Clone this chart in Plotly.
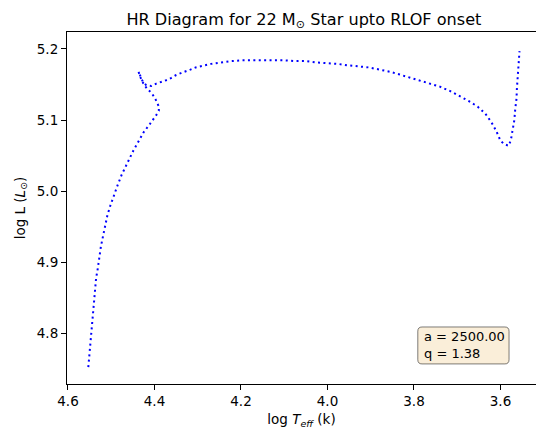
import plotly.graph_objects as go

# Evolutionary track of the 22 Msun donor, ZAMS up to the onset of RLOF
log_teff = [
    4.553, 4.551, 4.548, 4.547, 4.545, 4.542, 4.538, 4.535, 4.531, 4.528,
    4.524, 4.519, 4.514, 4.509, 4.502, 4.494, 4.485, 4.476, 4.466, 4.460,
    4.449, 4.437, 4.425, 4.410, 4.402, 4.396, 4.390, 4.390, 4.395, 4.400,
    4.408, 4.416, 4.423, 4.430, 4.434, 4.437, 4.432, 4.427, 4.419, 4.407,
    4.397, 4.385, 4.373, 4.362, 4.351, 4.339, 4.328, 4.317, 4.305, 4.293,
    4.281, 4.269, 4.258, 4.246, 4.222, 4.197, 4.172, 4.148, 4.123, 4.099,
    4.074, 4.050, 4.026, 4.001, 3.976, 3.953, 3.929, 3.904, 3.880, 3.856,
    3.833, 3.810, 3.787, 3.764, 3.740, 3.717, 3.695, 3.674, 3.653, 3.635,
    3.621, 3.610, 3.600, 3.591, 3.581, 3.576, 3.572, 3.568, 3.566, 3.563,
    3.562, 3.560, 3.559, 3.557, 3.556,
]
log_l = [
    4.753, 4.767, 4.782, 4.797, 4.812, 4.834, 4.856, 4.878, 4.892, 4.907,
    4.922, 4.937, 4.952, 4.966, 4.980, 4.995, 5.009, 5.023, 5.036, 5.044,
    5.057, 5.070, 5.083, 5.095, 5.101, 5.107, 5.113, 5.119, 5.126, 5.132,
    5.139, 5.143, 5.149, 5.156, 5.163, 5.168, 5.161, 5.154, 5.149, 5.148,
    5.151, 5.153, 5.156, 5.159, 5.163, 5.166, 5.169, 5.171, 5.174, 5.176,
    5.177, 5.179, 5.180, 5.181, 5.183, 5.184, 5.184, 5.185, 5.184, 5.184,
    5.183, 5.183, 5.181, 5.180, 5.179, 5.177, 5.176, 5.174, 5.171, 5.168,
    5.164, 5.160, 5.155, 5.151, 5.147, 5.141, 5.134, 5.127, 5.119, 5.109,
    5.097, 5.085, 5.071, 5.066, 5.064, 5.072, 5.086, 5.100, 5.115, 5.130,
    5.145, 5.160, 5.175, 5.190, 5.197,
]

x_ticks = [4.6, 4.4, 4.2, 4.0, 3.8, 3.6]
y_ticks = [4.8, 4.9, 5.0, 5.1, 5.2]

separation = 2500.00
mass_ratio = 1.38

FONT = "DejaVu Sans"

fig = go.Figure()
fig.add_trace(go.Scatter(
    x=log_teff, y=log_l, mode="lines",
    line=dict(color="#0000ff", width=2, dash="2px,3.4px"),
    hoverinfo="skip", showlegend=False,
))

axis_common = dict(
    showgrid=False, zeroline=False, showline=True, linecolor="black",
    linewidth=1.1, ticks="outside", ticklen=5, tickwidth=1.1,
    tickcolor="black", tickfont=dict(family=FONT, size=13.5, color="black"),
)

fig.update_layout(
    width=536, height=431,
    margin=dict(l=67, r=0, t=32, b=47),
    plot_bgcolor="white", paper_bgcolor="white",
    font=dict(family=FONT, color="black"),
    title=dict(
        text="HR Diagram for 22 M<sub>⊙</sub> Star upto RLOF onset",
        x=0.567, xref="container", xanchor="center",
        y=0.955, yref="container", yanchor="middle",
        font=dict(family=FONT, size=16.1, color="black"),
    ),
    xaxis=dict(
        range=[4.6023, 3.5179], tickvals=x_ticks,
        ticktext=[f"{v:.1f}" for v in x_ticks],
        mirror=True,
        title=dict(text="log <i>T<sub>eff</sub></i> (k)",
                   font=dict(family=FONT, size=13.5), standoff=6),
        **axis_common,
    ),
    yaxis=dict(
        range=[4.7292, 5.2238], tickvals=y_ticks,
        ticktext=[f"{v:.1f}" for v in y_ticks],
        title=dict(text="log L (<i>L</i><sub>⊙</sub>)",
                   font=dict(family=FONT, size=13.5), standoff=8),
        **axis_common,
    ),
)

# Rounded info box (paper coordinates) behind the binary parameters
x0, x1, y0, y1 = 0.748, 0.9425, 0.057, 0.162
rx, ry = 0.009, 0.012
box_path = (
    f"M {x0 + rx},{y0} L {x1 - rx},{y0} Q {x1},{y0} {x1},{y0 + ry} "
    f"L {x1},{y1 - ry} Q {x1},{y1} {x1 - rx},{y1} "
    f"L {x0 + rx},{y1} Q {x0},{y1} {x0},{y1 - ry} "
    f"L {x0},{y0 + ry} Q {x0},{y0} {x0 + rx},{y0} Z"
)
fig.add_shape(
    type="path", path=box_path, xref="paper", yref="paper",
    fillcolor="rgba(245,222,179,0.5)",
    line=dict(color="rgba(0,0,0,0.5)", width=1), layer="above",
)

fig.add_annotation(
    text=f"a = {separation:.2f}<br>q = {mass_ratio:.2f}",
    xref="paper", yref="paper", x=0.757, y=0.1095,
    xanchor="left", yanchor="middle", align="left", showarrow=False,
    font=dict(family=FONT, size=13, color="black"),
)

fig.write_html("out.html")
